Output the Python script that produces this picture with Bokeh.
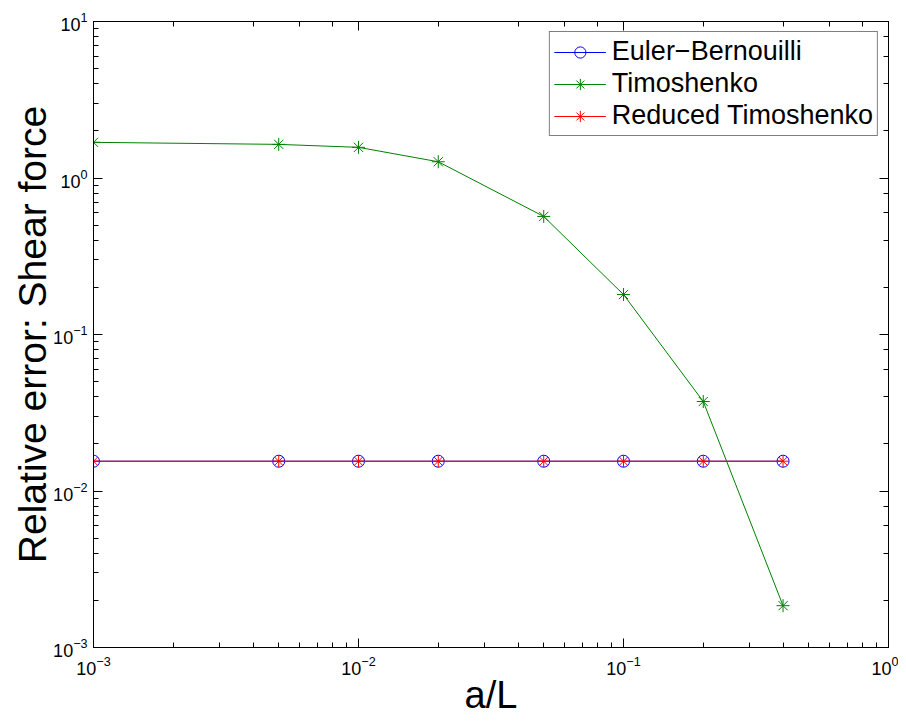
from bokeh.plotting import figure
from bokeh.models import Range1d, LogAxis, Legend, LegendItem, LogTicker
from bokeh.embed import file_html
from bokeh.resources import INLINE

# Data
a_over_L = [0.001, 0.005, 0.01, 0.02, 0.05, 0.1, 0.2, 0.4]
euler_bernouilli = [0.0155, 0.0155, 0.0155, 0.0155, 0.0155, 0.0155, 0.0155, 0.0155]
timoshenko = [1.69, 1.64, 1.57, 1.27, 0.568, 0.180, 0.0373, 0.00185]
reduced_timoshenko = [0.0155, 0.0155, 0.0155, 0.0155, 0.0155, 0.0155, 0.0155, 0.0155]

series_labels = ["Euler\u2212Bernouilli", "Timoshenko", "Reduced Timoshenko"]
x_label = "a/L"
y_label = "Relative error: Shear force"

FONT = "Liberation Sans"
BLUE = "#0000ff"
GREEN = "#008000"
RED = "#ff0000"

p = figure(
    x_axis_type="log", y_axis_type="log",
    x_range=Range1d(1e-3, 1), y_range=Range1d(1e-3, 10),
    frame_width=795, frame_height=626,
    min_border_left=93, min_border_right=10, min_border_top=21, min_border_bottom=72,
    output_backend="svg", toolbar_location=None,
    background_fill_color="white", border_fill_color="white",
)
p.xgrid.visible = False
p.ygrid.visible = False
p.outline_line_color = "black"
p.outline_line_width = 1

def style_axis(ax, labels=True):
    ax.axis_line_color = "black"
    ax.axis_line_width = 1
    ax.major_tick_in = 9
    ax.major_tick_out = 0
    ax.minor_tick_in = 5
    ax.minor_tick_out = 0
    ax.major_tick_line_color = "black"
    ax.minor_tick_line_color = "black"
    ax.major_label_text_font = FONT
    if labels:
        ax.major_label_text_color = "black"
        ax.major_label_text_font_size = "18px"
    else:
        ax.major_label_text_color = None
        ax.major_label_text_font_size = "1px"
        ax.major_label_standoff = 0

for ax in p.xaxis + p.yaxis:
    style_axis(ax)
    ax.axis_label_text_font = FONT
    ax.axis_label_text_font_style = "normal"
    ax.axis_label_text_color = "black"

p.xaxis.axis_label = x_label
p.xaxis.axis_label_text_font_size = "38px"
p.xaxis.major_label_standoff = 8
p.xaxis.axis_label_standoff = -4

p.yaxis.axis_label = y_label
p.yaxis.axis_label_text_font_size = "39px"
p.yaxis.major_label_standoff = 6
p.yaxis.axis_label_standoff = -4

top_ax = LogAxis(ticker=LogTicker())
style_axis(top_ax, labels=False)
p.add_layout(top_ax, "above")
right_ax = LogAxis(ticker=LogTicker())
style_axis(right_ax, labels=False)
p.add_layout(right_ax, "right")

# Euler-Bernouilli
l_eb = p.line(a_over_L, euler_bernouilli, line_color=BLUE, line_width=1)
s_eb = p.scatter(a_over_L, euler_bernouilli, marker="circle", size=12,
                 line_color=BLUE, fill_color=None, line_width=1)
# Timoshenko
l_t = p.line(a_over_L, timoshenko, line_color=GREEN, line_width=1)
s_t = p.scatter(a_over_L, timoshenko, marker="asterisk", size=13,
                line_color=GREEN, line_width=1)
# Reduced Timoshenko
l_r = p.line(a_over_L, reduced_timoshenko, line_color=RED, line_width=1)
s_r = p.scatter(a_over_L, reduced_timoshenko, marker="asterisk", size=12,
                line_color=RED, line_width=1)

legend = Legend(items=[
    LegendItem(label=series_labels[0], renderers=[l_eb, s_eb]),
    LegendItem(label=series_labels[1], renderers=[l_t, s_t]),
    LegendItem(label=series_labels[2], renderers=[l_r, s_r]),
], location="top_right")
legend.label_text_font = FONT
legend.label_text_font_size = "27px"
legend.label_text_color = "black"
legend.border_line_color = "black"
legend.border_line_width = 1
legend.background_fill_alpha = 1
legend.glyph_width = 52
legend.glyph_height = 28
legend.label_height = 28
legend.label_standoff = 6
legend.padding = 4
legend.spacing = 1
legend.margin = 10
p.add_layout(legend, "center")

open("out.html", "w").write(file_html(p, INLINE))
